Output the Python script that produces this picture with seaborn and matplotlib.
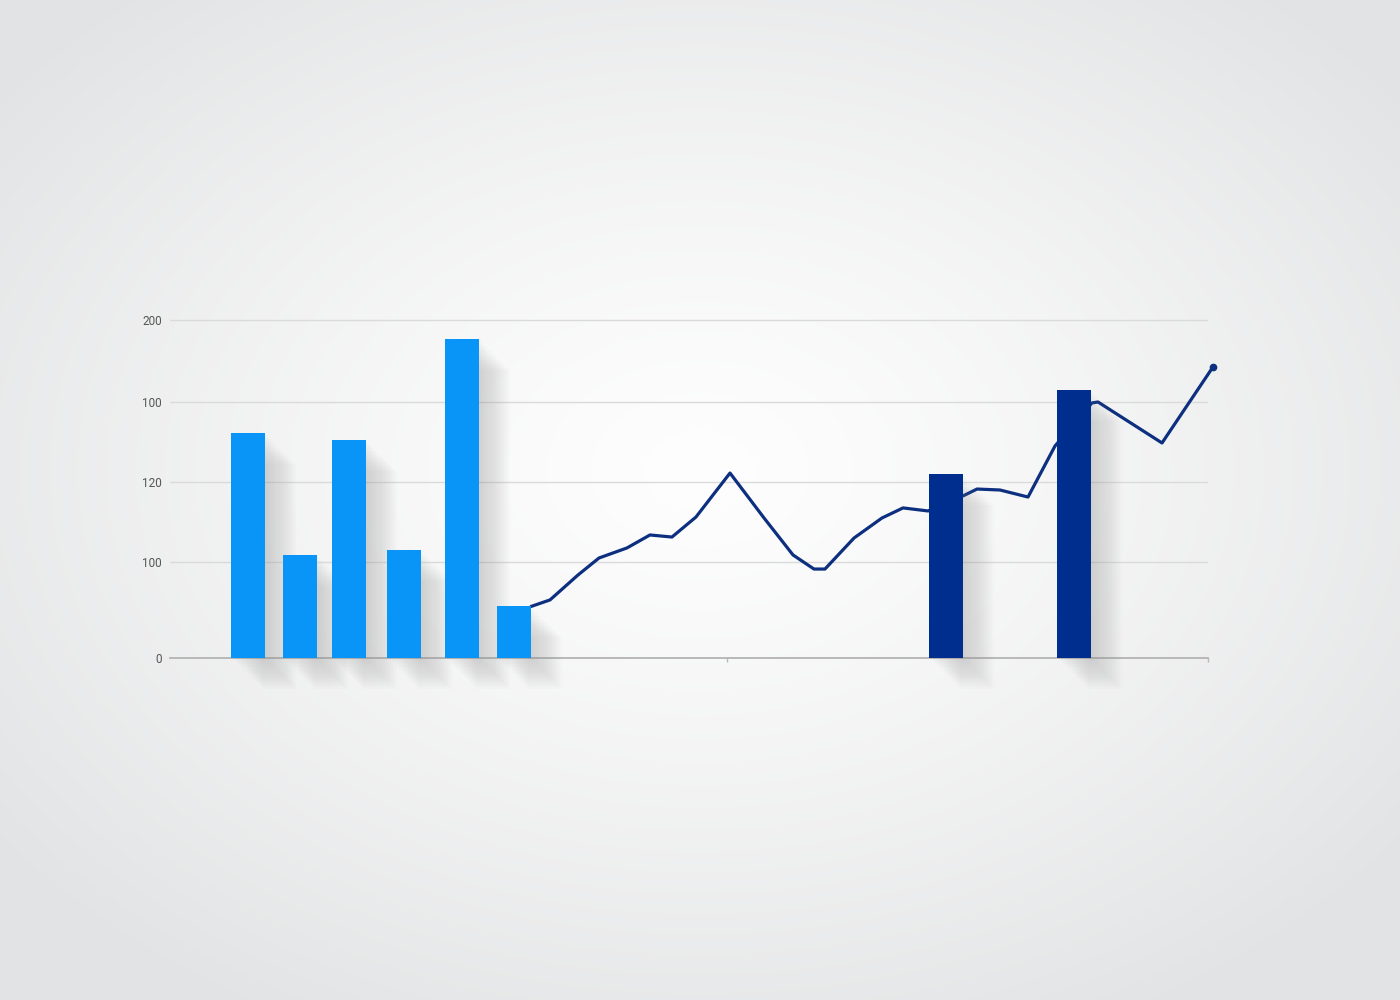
import numpy as np
import pandas as pd
import matplotlib
matplotlib.use("Agg")
import matplotlib.pyplot as plt
import matplotlib.patheffects as pe
import seaborn as sns

# ---- data ----
light_x = [7.51, 12.52, 17.24, 22.54, 28.13, 33.14]
light_vals = [140.6, 64.4, 136.3, 67.5, 199.4, 32.5]
dark_x = [74.76, 87.09]
dark_vals = [115.0, 167.5]
line_x = [34.78, 36.61, 39.31, 41.33, 44.03, 46.24, 48.36, 50.67, 53.95, 57.23,
          60.02, 62.04, 63.10, 65.90, 68.59, 70.62, 73.03, 76.59, 77.75, 79.96,
          82.66, 85.26, 88.82, 89.40, 95.57, 100.48]
line_y = [32.2, 36.3, 51.9, 62.5, 68.8, 76.9, 75.6, 88.1, 115.6, 87.5,
          64.4, 55.6, 55.6, 75.0, 87.5, 93.8, 91.9, 101.9, 105.6, 105.0,
          100.6, 132.5, 159.4, 160.0, 134.4, 181.9]
ytick_pos = [0, 60, 110, 160, 211.25]
ytick_labels = ["0", "100", "120", "100", "200"]
xtick_pos = [53.66, 100]

sns.set_theme(style="white")
plt.rcParams['font.family'] = ['Roboto', 'DejaVu Sans']

fig = plt.figure(figsize=(14, 10), dpi=100)

# background radial gradient
bg = fig.add_axes([0, 0, 1, 1], zorder=-10)
yy, xx = np.mgrid[0:1:500j, 0:1:700j]
r = np.sqrt(((xx - 0.5) / 0.62) ** 2 + ((yy - 0.47) / 0.62) ** 2)
t = np.clip(r, 0, 1) ** 1.3
white = np.array([0.995, 0.995, 0.995])
edge = np.array([0.890, 0.894, 0.898])
img = white[None, None, :] * (1 - t[..., None]) + edge[None, None, :] * t[..., None]
bg.imshow(img, extent=[0, 1, 0, 1], aspect='auto', origin='upper')
bg.axis('off')

ax = fig.add_axes([170 / 1400, 0.342, 1038 / 1400, 0.358])
ax.set_facecolor('none')
ax.set_xlim(0, 100)
ax.set_ylim(0, 223.75)

ax.set_yticks(ytick_pos)
ax.set_yticklabels(ytick_labels)
ax.set_xticks(xtick_pos)
ax.set_xticklabels([])
ax.tick_params(axis='y', left=False, length=0, pad=6, labelsize=8.5, labelcolor='#555555')
ax.tick_params(axis='x', bottom=True, length=3, width=1, color='#b8b8b8', direction='out')
ax.grid(axis='y', color='#dadada', linewidth=1)
ax.set_axisbelow(True)
for s in ['left', 'right', 'top']:
    ax.spines[s].set_visible(False)
ax.spines['bottom'].set_color('#b4b4b4')
ax.spines['bottom'].set_linewidth(1.3)
ax.spines['bottom'].set_zorder(1)

shadow = [pe.SimplePatchShadow(offset=(i * 1.5, -i * 1.5), shadow_rgbFace='#8a8a8a', alpha=0.025)
          for i in range(1, 16)] + [pe.Normal()]

df_line = pd.DataFrame({"x": line_x, "y": line_y})
sns.lineplot(data=df_line, x="x", y="y", ax=ax, color='#0d2f80', linewidth=2.3,
             sort=False, estimator=None, zorder=2, clip_on=False,
             solid_joinstyle='round', solid_capstyle='round')
ax.plot([line_x[-1]], [line_y[-1]], 'o', color='#0d2f80', markersize=4.5, clip_on=False, zorder=2)

bw = 3.28
bars1 = ax.bar(light_x, light_vals, width=bw, color='#0895f7', edgecolor='none',
               linewidth=0, zorder=3)
bars2 = ax.bar(dark_x, dark_vals, width=bw, color='#002e8e', edgecolor='none',
               linewidth=0, zorder=3)
for b in list(bars1) + list(bars2):
    b.set_path_effects(shadow)
    b.set_clip_on(False)

ax.set_xlabel('')
ax.set_ylabel('')

fig.savefig('out.png', dpi=100)
